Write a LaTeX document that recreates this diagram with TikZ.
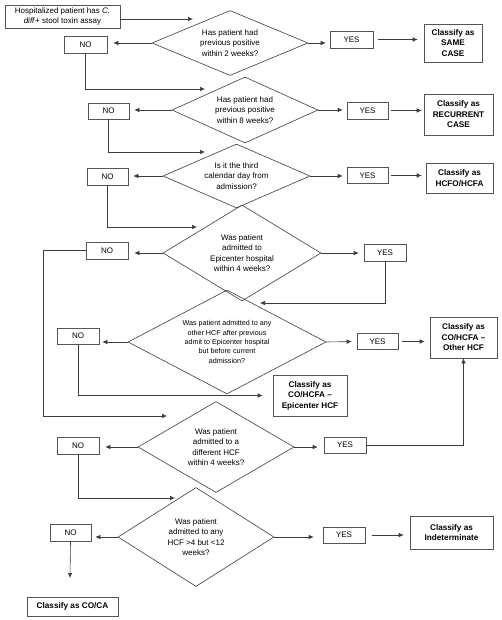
\documentclass[tikz,border=0pt]{standalone}
\usepackage{fontspec}
\setmainfont{Liberation Sans}
\usetikzlibrary{shapes.geometric,arrows.meta}
\definecolor{ln}{HTML}{3C3C3C}
\definecolor{bx}{HTML}{555555}
\begin{document}
\begin{tikzpicture}[x=1pt,y=-1pt,
  every node/.style={font=\fontsize{8}{10.5}\selectfont, text=black},
  box/.style={draw=bx, line width=0.6pt, fill=white, align=center, inner sep=0pt},
  cls/.style={box, font=\fontsize{8.2}{10.5}\selectfont\bfseries},
  dia/.style={diamond, draw=ln, line width=0.6pt, align=center, inner sep=0pt},
  arr/.style={draw=ln, line width=0.6pt, -{Latex[length=5pt,width=4.5pt]}},
  ln/.style={draw=ln, line width=0.6pt}]
\useasboundingbox (0,0) rectangle (501,620);
% boxes
\node[box, minimum width=115pt, minimum height=23pt] (start) at (62.5,16.5) {Hospitalized patient has \textit{C.}\\\textit{diff}+ stool toxin assay};
\node[box, minimum width=43pt, minimum height=17pt] (no1) at (85.5,44.5) {NO};
\node[box, minimum width=43pt, minimum height=17pt] (yes1) at (351.5,39.5) {YES};
\node[cls, minimum width=58pt, minimum height=38pt] (same) at (453,43) {Classify as\\SAME\\CASE};
\node[box, minimum width=41pt, minimum height=16pt] (no2) at (108.5,111) {NO};
\node[box, minimum width=41pt, minimum height=17pt] (yes2) at (367.5,110.5) {YES};
\node[cls, minimum width=69pt, minimum height=41pt] (rec) at (458.5,114.5) {Classify as\\RECURRENT\\CASE};
\node[box, minimum width=41pt, minimum height=17pt] (no3) at (107.5,176.5) {NO};
\node[box, minimum width=41pt, minimum height=16pt] (yes3) at (367.5,175.5) {YES};
\node[cls, minimum width=67pt, minimum height=30pt] (hcfo) at (459.5,178) {Classify as\\HCFO/HCFA};
\node[box, minimum width=42pt, minimum height=17pt] (no4) at (107,250.5) {NO};
\node[box, minimum width=42pt, minimum height=17pt] (yes4) at (385,252.5) {YES};
\node[box, minimum width=42pt, minimum height=16pt] (no5) at (78,336) {NO};
\node[box, minimum width=41pt, minimum height=16pt] (yes5) at (377.5,341.5) {YES};
\node[cls, minimum width=67pt, minimum height=41pt] (other) at (463.5,337.5) {Classify as\\CO/HCFA –\\Other HCF};
\node[cls, minimum width=74pt, minimum height=41pt] (epi) at (310,395.5) {Classify as\\CO/HCFA –\\Epicenter HCF};
\node[box, minimum width=42pt, minimum height=17pt] (no6) at (78,445.5) {NO};
\node[box, minimum width=42pt, minimum height=16pt] (yes6) at (345,445) {YES};
\node[box, minimum width=41pt, minimum height=17pt] (no7) at (70.5,532.5) {NO};
\node[box, minimum width=42pt, minimum height=16pt] (yes7) at (344,535) {YES};
\node[cls, minimum width=83pt, minimum height=33pt] (indet) at (451.5,532.5) {Classify as\\Indeterminate};
\node[cls, minimum width=91pt, minimum height=19pt] (coca) at (72.5,606.5) {Classify as CO/CA};
% diamonds
\node[dia, shape aspect=2.4, minimum width=156pt, minimum height=65pt] (d1) at (230,43) {Has patient had\\previous positive\\within 2 weeks?};
\node[dia, shape aspect=2.2, minimum width=146pt, minimum height=66pt] (d2) at (245,110) {Has patient had\\previous positive\\within 8 weeks?};
\node[dia, shape aspect=2.3, minimum width=147pt, minimum height=64pt] (d3) at (236.5,176) {Is it the third\\calendar day from\\admission?};
\node[dia, shape aspect=1.65, minimum width=158pt, minimum height=96pt] (d4) at (242,253) {Was patient\\admitted to\\Epicenter hospital\\within 4 weeks?};
\node[dia, shape aspect=1.9, minimum width=198pt, minimum height=104pt, font=\fontsize{7.2}{9.3}\selectfont] (d5) at (227,342) {Was patient admitted to any\\other HCF after previous\\admit to Epicenter hospital\\but before current\\admission?};
\node[dia, shape aspect=1.7, minimum width=156pt, minimum height=91pt] (d6) at (216,447) {Was patient\\admitted to a\\different HCF\\within 4 weeks?};
\node[dia, shape aspect=1.6, minimum width=156pt, minimum height=99pt] (d7) at (196,537) {Was patient\\admitted to any\\HCF >4 but <12\\weeks?};
% free ends
\coordinate (c1) at (193,19);
\coordinate (c2) at (205,89);
\coordinate (c3) at (205,152);
\coordinate (c4) at (197,227);
\coordinate (c5) at (167,416);
\coordinate (c6) at (260,303);
\coordinate (c7) at (175,498);
\coordinate (c8) at (70,578);
\coordinate (k4) at (43,250.5);
% connectors
\draw[arr] (start.east |- c1) -- (c1);
\draw[arr, shorten >=6pt] (d1.west) -- (no1.east |- d1.west);
\draw[arr, shorten >=4pt] (d1.east) -- (d1.east -| yes1.west);
\draw[arr, shorten <=5pt, shorten >=6pt] (yes1.east) -- (yes1.east -| same.west);
\draw[arr] (no1.south) |- (c2);
\draw[arr, shorten >=5pt] (d2.west) -- (no2.east |- d2.west);
\draw[arr, shorten >=4pt] (d2.east) -- (yes2.west |- d2.east);
\draw[arr, shorten <=3pt, shorten >=2pt] (yes2.east) -- (rec.west |- yes2.east);
\draw[arr] (no2.south) |- (c3);
\draw[arr, shorten >=5pt] (d3.west) -- (no3.east |- d3.west);
\draw[arr, shorten >=4pt] (d3.east) -- (yes3.west |- d3.east);
\draw[arr, shorten <=3pt, shorten >=4pt] (yes3.east) -- (hcfo.west |- yes3.east);
\draw[arr] (no3.south) |- (c4);
\draw[arr, shorten >=6pt] (d4.west) -- (no4.east |- d4.west);
\draw[arr, shorten >=5pt] (d4.east) -- (yes4.west |- d4.east);
\draw[arr] (no4.west) -- (k4) |- (c5);
\draw[arr] (yes4.south) |- (c6);
\draw[arr, shorten >=3pt] (d5.west) -- (no5.east |- d5.west);
\draw[arr, shorten >=5pt] (d5.east) -- (yes5.west);
\draw[arr, shorten <=4pt, shorten >=5pt] (yes5.east) -- (other.west |- yes5.east);
\draw[arr, shorten >=10pt] (no5.south) |- (epi.west);
\draw[arr, shorten >=6pt] (d6.west) -- (no6.east |- d6.west);
\draw[arr, shorten >=6pt] (d6.east) -- (yes6.west |- d6.east);
\draw[arr] (yes6.east) -| (other.south);
\draw[arr] (no6.south) |- (c7);
\draw[arr, shorten >=4pt] (d7.west) -- (no7.east |- d7.west);
\draw[arr, shorten >=9pt] (d7.east) -- (yes7.west |- d7.east);
\draw[arr, shorten <=7pt, shorten >=6pt] (yes7.east) -- (indet.west |- yes7.east);
\draw[arr] (no7.south) -- (c8);
\end{tikzpicture}
\end{document}
